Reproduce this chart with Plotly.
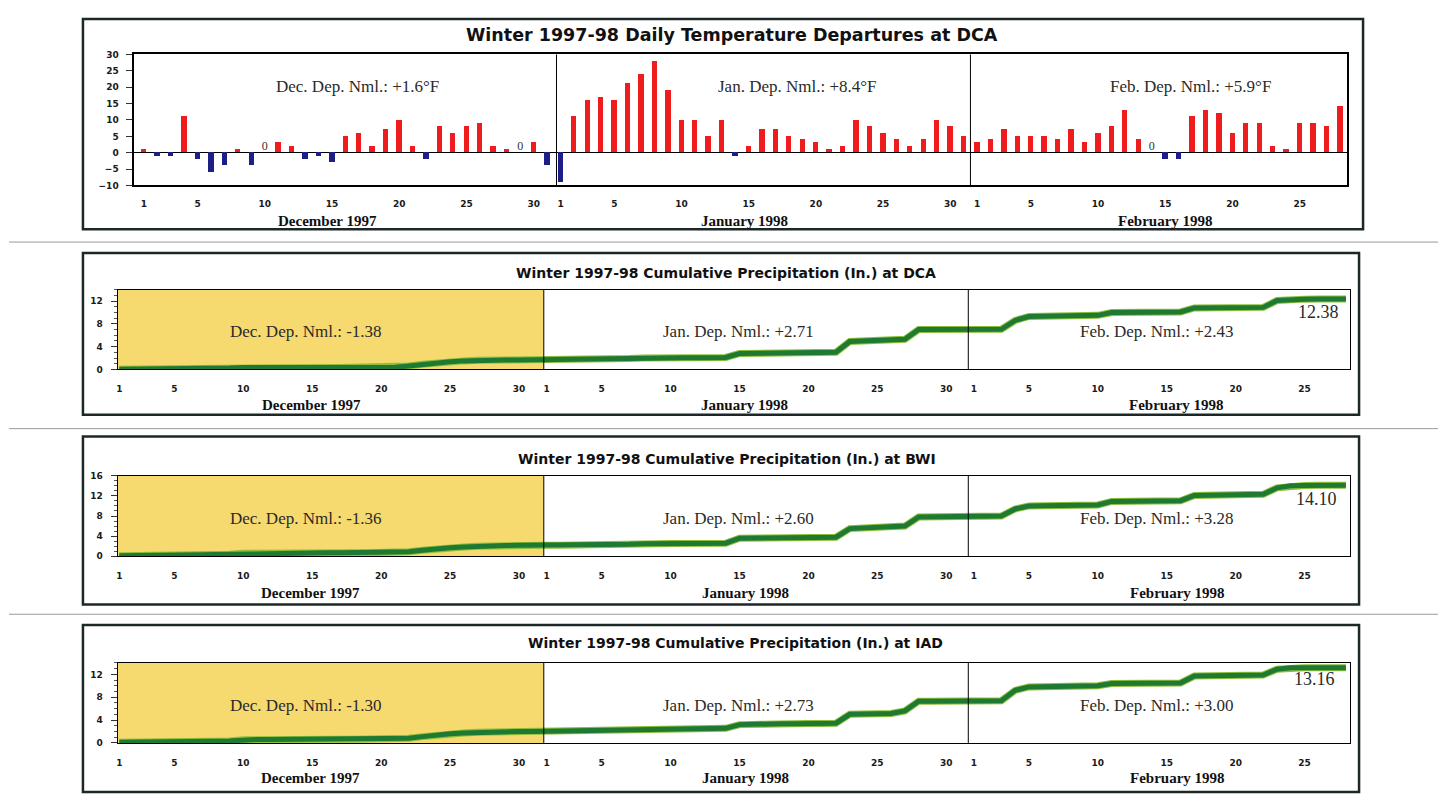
import plotly.graph_objects as go

# The page has an 8px default body margin; the figure is sized to fit inside it.
PAGE_W, PAGE_H = 1446, 803
OFF = 8
W, H = PAGE_W - 2 * OFF, PAGE_H - 2 * OFF

# ---------------- data ----------------
month_names = ["December 1997", "January 1998", "February 1998"]
month_abbr = ["Dec.", "Jan.", "Feb."]
month_lengths = [31, 31, 28]
tick_days = [1, 5, 10, 15, 20, 25, 30]

# Daily temperature departures (deg F) at DCA
temp_dec = [1, -1, -1, 11, -2, -6, -4, 1, -4, 0, 3, 2, -2, -1, -3, 5, 6, 2, 7, 10,
            2, -2, 8, 6, 8, 9, 2, 1, 0, 3, -4]
temp_jan = [-9, 11, 16, 17, 16, 21, 24, 28, 19, 10, 10, 5, 10, -1, 2, 7, 7, 5, 4, 3,
            1, 2, 10, 8, 6, 4, 2, 4, 10, 8, 5]
temp_feb = [3, 4, 7, 5, 5, 5, 4, 7, 3, 6, 8, 13, 4, 0, -2, -2, 11, 13, 12, 6,
            9, 9, 2, 1, 9, 9, 8, 14]
temp_dep = ["+1.6°F", "+8.4°F", "+5.9°F"]

# Cumulative precipitation (in.)
dca_dec = [0.05, 0.05, 0.1, 0.1, 0.1, 0.15, 0.15, 0.2, 0.25, 0.35, 0.35, 0.35, 0.35, 0.35,
           0.35, 0.35, 0.35, 0.4, 0.4, 0.4, 0.4, 0.6, 0.9, 1.2, 1.35, 1.5, 1.6, 1.6, 1.65,
           1.65, 1.7]
dca_jan = [1.7, 1.7, 1.75, 1.75, 1.75, 1.8, 1.9, 2.0, 2.0, 2.0, 2.05, 2.05, 2.05, 2.1, 2.8,
           2.85, 2.85, 2.9, 2.9, 2.95, 3.0, 3.0, 4.9, 5.0, 5.0, 5.1, 5.3, 7.0, 7.0, 7.0, 7.0]
dca_feb = [7.0, 7.0, 7.05, 8.6, 9.3, 9.35, 9.4, 9.4, 9.45, 9.5, 10.0, 10.05, 10.05, 10.05,
           10.1, 10.1, 10.8, 10.85, 10.85, 10.9, 10.9, 10.9, 12.1, 12.3, 12.35, 12.38, 12.38,
           12.38]

bwi_dec = [0.1, 0.1, 0.15, 0.2, 0.2, 0.25, 0.3, 0.35, 0.4, 0.6, 0.65, 0.65, 0.65, 0.65,
           0.7, 0.7, 0.7, 0.7, 0.7, 0.7, 0.7, 0.9, 1.2, 1.5, 1.7, 1.85, 2.0, 2.1, 2.15,
           2.2, 2.2]
bwi_jan = [2.2, 2.2, 2.2, 2.25, 2.25, 2.3, 2.4, 2.5, 2.5, 2.55, 2.55, 2.6, 2.6, 2.6, 3.6,
           3.65, 3.7, 3.7, 3.75, 3.75, 3.8, 3.8, 5.5, 5.6, 5.65, 5.7, 6.0, 7.8, 7.85, 7.9, 7.9]
bwi_feb = [7.9, 7.9, 8.0, 9.4, 10.0, 10.05, 10.1, 10.1, 10.15, 10.2, 10.9, 10.95, 10.95,
           11.0, 11.0, 11.05, 12.1, 12.15, 12.2, 12.2, 12.25, 12.3, 13.6, 14.0, 14.05, 14.1,
           14.1, 14.1]

iad_dec = [0.1, 0.1, 0.15, 0.15, 0.2, 0.2, 0.25, 0.3, 0.35, 0.55, 0.6, 0.6, 0.6, 0.6,
           0.6, 0.6, 0.65, 0.65, 0.65, 0.65, 0.65, 0.8, 1.1, 1.4, 1.6, 1.75, 1.85, 1.9, 1.95,
           2.0, 2.0]
iad_jan = [2.05, 2.05, 2.1, 2.1, 2.1, 2.15, 2.3, 2.4, 2.4, 2.45, 2.45, 2.5, 2.5, 2.55, 3.2,
           3.3, 3.3, 3.35, 3.35, 3.4, 3.4, 3.45, 5.0, 5.05, 5.1, 5.15, 5.6, 7.3, 7.3, 7.35, 7.35]
iad_feb = [7.35, 7.35, 7.4, 9.2, 9.8, 9.85, 9.9, 9.9, 9.95, 10.0, 10.4, 10.45, 10.45, 10.5,
           10.5, 10.5, 11.7, 11.75, 11.8, 11.8, 11.85, 11.9, 12.9, 13.16, 13.16, 13.16,
           13.16, 13.16]

stations = ["DCA", "BWI", "IAD"]
precip_dep = {"DCA": ["-1.38", "+2.71", "+2.43"],
              "BWI": ["-1.36", "+2.60", "+3.28"],
              "IAD": ["-1.30", "+2.73", "+3.00"]}
precip_total = {"DCA": "12.38", "BWI": "14.10", "IAD": "13.16"}
precip_series = {"DCA": dca_dec + dca_jan + dca_feb,
                 "BWI": bwi_dec + bwi_jan + bwi_feb,
                 "IAD": iad_dec + iad_jan + iad_feb}
precip_ymax = {"DCA": 14, "BWI": 16, "IAD": 14}
precip_dtick = 4

# ---------------- helpers (page pixels -> paper fraction) ----------------
def px(x):
    return (x - OFF) / W

def py(y):
    return 1 - (y - OFF) / H

temps = temp_dec + temp_jan + temp_feb
days = list(range(1, len(temps) + 1))
offsets = [0, month_lengths[0], month_lengths[0] + month_lengths[1]]

tickvals, ticktext = [], []
for off, ml in zip(offsets, month_lengths):
    for d in tick_days:
        if d <= ml:
            tickvals.append(off + d)
            ticktext.append(str(d))

RED = "#ee1c1c"
BLUE = "#1d1f85"
GREEN = "#1e7a32"
GREEN_EDGE = "#8fbf3a"
YELLOW = "#f6d96f"
FRAME = "#1c2727"
TICKFONT = dict(family="DejaVu Sans", size=9, color="#1a1a1a", weight="bold")
SERIF = "Liberation Serif"
TITLEFONT = "DejaVu Sans"

fig = go.Figure()

# ---------------- temperature panel ----------------
colors = [RED if v > 0 else BLUE for v in temps]
fig.add_trace(go.Bar(x=days, y=temps, marker=dict(color=colors, line=dict(width=0)),
                     width=0.4, xaxis="x", yaxis="y", showlegend=False))
zero_days = [d for d, v in zip(days, temps) if v == 0]
fig.add_trace(go.Scatter(x=zero_days, y=[0] * len(zero_days), mode="text",
                         text=["0"] * len(zero_days), textposition="top center",
                         textfont=dict(family=SERIF, size=12, color="#333"),
                         xaxis="x", yaxis="y", showlegend=False))

# ---------------- precipitation panels ----------------
panel_y = {"DCA": (288.3, 369.0), "BWI": (476.7, 558.3), "IAD": (666.3, 747.3)}
for i, st in enumerate(stations):
    ax = str(i + 2)
    fig.add_trace(go.Scatter(x=days, y=precip_series[st], mode="lines",
                             line=dict(color=GREEN_EDGE, width=7),
                             xaxis="x" + ax, yaxis="y" + ax, showlegend=False,
                             hoverinfo="skip"))
    fig.add_trace(go.Scatter(x=days, y=precip_series[st], mode="lines",
                             line=dict(color=GREEN, width=5),
                             xaxis="x" + ax, yaxis="y" + ax, showlegend=False))

layout = dict(
    width=W, height=H, margin=dict(l=0, r=0, t=0, b=0),
    paper_bgcolor="white", plot_bgcolor="rgba(0,0,0,0)",
    bargap=0,
)

layout["xaxis"] = dict(domain=[px(133.3), px(1346.7)], range=[0.28, 90.5],
                       tickvals=tickvals, ticktext=ticktext, tickfont=TICKFONT,
                       showline=True, mirror=True, linecolor="black", linewidth=1.5,
                       showgrid=False, zeroline=False, ticks="", ticklabelstandoff=9,
                       anchor="y", fixedrange=True)
layout["yaxis"] = dict(domain=[py(182.7), py(50)], range=[-10, 30], dtick=5,
                       tickfont=TICKFONT, showline=True, mirror=True, linecolor="black",
                       linewidth=1.5, showgrid=False, zeroline=True, zerolinecolor="black",
                       zerolinewidth=1.2, ticks="outside", ticklen=6, tickcolor="#333",
                       ticklabelstandoff=6, anchor="x")

for i, st in enumerate(stations):
    ax = str(i + 2)
    y0, y1 = panel_y[st]
    layout["xaxis" + ax] = dict(domain=[px(116.7), px(1350)], range=[0.88, 90.3],
                                tickvals=tickvals, ticktext=ticktext, tickfont=TICKFONT,
                                showline=True, mirror=True, linecolor="black", linewidth=1.2,
                                showgrid=False, zeroline=False, ticks="",
                                ticklabelstandoff=11, anchor="y" + ax)
    layout["yaxis" + ax] = dict(domain=[py(y1), py(y0)], range=[0, precip_ymax[st]],
                                dtick=precip_dtick, tickfont=TICKFONT, showline=True,
                                mirror=True, linecolor="black", linewidth=1.2,
                                showgrid=False, zeroline=False, ticks="outside", ticklen=6,
                                tickcolor="#333", ticklabelstandoff=6,
                                minor=dict(dtick=1, ticks="outside", ticklen=3,
                                           tickcolor="#555"),
                                anchor="x" + ax)

shapes = []
annotations = []

# page separators
for yy in [240, 429, 617]:
    shapes.append(dict(type="line", xref="paper", yref="paper", x0=0, x1=1,
                       y0=py(yy), y1=py(yy), line=dict(color="#9a9a9a", width=1)))

# panel boxes
boxes = [(82, 14, 1363, 227), (82, 251, 1359, 415), (82, 437, 1359, 607),
         (82, 628, 1359, 797)]
for x0, y0, x1, y1 in boxes:
    shapes.append(dict(type="rect", xref="paper", yref="paper", x0=px(x0), x1=px(x1),
                       y0=py(y1), y1=py(y0), line=dict(color=FRAME, width=2.5)))

# month dividers
dividers_top = [31.7, 62.5]
dividers_precip = [31.8, 62.6]
for xv in dividers_top:
    shapes.append(dict(type="line", xref="x", yref="y domain", x0=xv, x1=xv, y0=0, y1=1,
                       line=dict(color="black", width=1)))
for i, st in enumerate(stations):
    ax = str(i + 2)
    shapes.append(dict(type="rect", xref="x" + ax, yref="y" + ax + " domain",
                       x0=0.88, x1=dividers_precip[0], y0=0, y1=1, layer="below",
                       fillcolor=YELLOW, line=dict(width=0)))
    for xv in dividers_precip:
        shapes.append(dict(type="line", xref="x" + ax, yref="y" + ax + " domain",
                           x0=xv, x1=xv, y0=0, y1=1, line=dict(color="black", width=1)))


def label(text, x, y, font):
    annotations.append(dict(text=text, x=px(x), y=py(y), xref="paper", yref="paper",
                            xanchor="center", yanchor="middle", showarrow=False, font=font))


# titles
label("Winter 1997-98 Daily Temperature Departures at DCA", 732, 30,
      dict(family=TITLEFONT, size=17.5, color="#111", weight="bold"))
title_pos = {"DCA": (726, 271), "BWI": (727, 460), "IAD": (735, 646)}
for st in stations:
    tx, ty = title_pos[st]
    label(f"Winter 1997-98 Cumulative Precipitation (In.) at {st}", tx, ty,
          dict(family=TITLEFONT, size=14, color="#111", weight="bold"))

# month labels
month_lbl_top = [(327, 219), (744, 219), (1165, 219)]
month_lbl_precip = {"DCA": ([311, 744, 1176], 405), "BWI": ([310, 745, 1177], 595),
                    "IAD": ([310, 745, 1177], 783)}
mfont = dict(family=SERIF, size=15, color="#111", weight="bold")
for (mx, my), name in zip(month_lbl_top, month_names):
    label(name, mx, my, mfont)
for st in stations:
    xs, my = month_lbl_precip[st]
    for mx, name in zip(xs, month_names):
        label(name, mx, my, mfont)

# departure annotations
dfont = dict(family=SERIF, size=17, color="#2a2a2a")
for mx, ab, dep in zip([357, 797, 1190], month_abbr, temp_dep):
    label(f"{ab} Dep. Nml.: {dep}", mx, 82, dfont)
dep_y = {"DCA": 331, "BWI": 520, "IAD": 709}
total_pos = {"DCA": (1318, 311), "BWI": (1316, 500), "IAD": (1314, 683)}
for st in stations:
    for mx, ab, dep in zip([305, 738, 1157], month_abbr, precip_dep[st]):
        label(f"{ab} Dep. Nml.: {dep}", mx, dep_y[st], dfont)
    tx, ty = total_pos[st]
    label(precip_total[st], tx, ty, dict(family=SERIF, size=18, color="#2a2a2a"))

layout["shapes"] = shapes
layout["annotations"] = annotations
fig.update_layout(**layout)

fig.write_html("out.html")
